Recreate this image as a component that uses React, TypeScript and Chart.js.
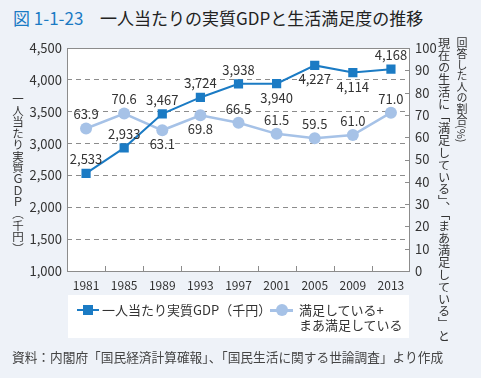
import React, { useEffect, useRef } from "react";
import { Chart, registerables } from "chart.js";

Chart.register(...registerables);

const years = ["1981", "1985", "1989", "1993", "1997", "2001", "2005", "2009", "2013"];
const gdp = [2533, 2933, 3467, 3724, 3938, 3940, 4227, 4114, 4168];
const satisfaction = [63.9, 70.6, 63.1, 69.8, 66.5, 61.5, 59.5, 61.0, 71.0];
const gdpLabelSide = ["above", "above", "above", "above", "above", "below", "below", "below", "above"];
const satLabelSide = ["above", "above", "below", "below", "above", "above", "above", "above", "above"];
const gdpAxis = { min: 1000, max: 4500, step: 500 };
const satAxis = { min: 0, max: 100, step: 10 };

const FONT = "'Noto Sans CJK JP', 'Noto Sans', sans-serif";
const BLUE = "#1b7bc4";
const LIGHT = "#a6c2e7";
const TEXT = "#333333";
const GRID = "#8c8c8c";
const BG = "#eef2f8";

const decor = {
  id: "decor",
  beforeDraw(chart: any) {
    const { ctx, chartArea: a } = chart;
    ctx.save();
    ctx.fillStyle = "#ffffff";
    ctx.fillRect(a.left, a.top, a.right - a.left, a.bottom - a.top);
    ctx.restore();
  },
  beforeDatasetsDraw(chart: any) {
    const { ctx, chartArea: a, scales } = chart;
    ctx.save();
    ctx.strokeStyle = GRID;
    ctx.lineWidth = 1;
    ctx.setLineDash([]);
    ctx.strokeRect(Math.round(a.left) + 0.5, Math.round(a.top) + 0.5, Math.round(a.right - a.left) - 1, Math.round(a.bottom - a.top));
    const x = scales.x;
    ctx.beginPath();
    for (let i = 1; i < years.length; i++) {
      const px = Math.round((x.getPixelForTick(i - 1) + x.getPixelForTick(i)) / 2) + 0.5;
      ctx.moveTo(px, a.bottom);
      ctx.lineTo(px, a.bottom - 5);
    }
    const y2 = scales.y2;
    for (let v = satAxis.min + satAxis.step; v < satAxis.max; v += satAxis.step) {
      const py = Math.round(y2.getPixelForValue(v)) + 0.5;
      ctx.moveTo(a.right - 5, py);
      ctx.lineTo(a.right, py);
    }
    ctx.stroke();
    ctx.restore();
  },
  afterDatasetsDraw(chart: any) {
    const { ctx } = chart;
    ctx.save();
    ctx.font = `13px ${FONT}`;
    ctx.fillStyle = TEXT;
    ctx.textAlign = "center";
    ctx.textBaseline = "middle";
    const draw = (dsIndex: number, sides: string[], fmt: (v: number) => string) => {
      const meta = chart.getDatasetMeta(dsIndex);
      const data = chart.data.datasets[dsIndex].data as number[];
      meta.data.forEach((pt: any, i: number) => {
        const dy = sides[i] === "above" ? -14 : 14;
        ctx.fillText(fmt(data[i]), pt.x, pt.y + dy);
      });
    };
    draw(0, gdpLabelSide, (v) => v.toLocaleString("en-US"));
    draw(1, satLabelSide, (v) => v.toFixed(1));
    ctx.restore();
  },
};

function ChartCanvas() {
  const ref = useRef<HTMLCanvasElement | null>(null);
  useEffect(() => {
    if (!ref.current) return;
    Chart.defaults.font.family = FONT;
    const chart = new Chart(ref.current, {
      type: "line",
      data: {
        labels: years,
        datasets: [
          {
            label: "一人当たり実質GDP（千円）",
            data: gdp,
            yAxisID: "y",
            borderColor: BLUE,
            backgroundColor: BLUE,
            borderWidth: 2,
            pointStyle: "rect",
            pointRadius: 6.5,
            pointHoverRadius: 6.5,
            pointBorderWidth: 0,
            tension: 0,
          },
          {
            label: "満足している+まあ満足している",
            data: satisfaction,
            yAxisID: "y2",
            borderColor: LIGHT,
            backgroundColor: LIGHT,
            borderWidth: 2.5,
            pointStyle: "circle",
            pointRadius: 6,
            pointHoverRadius: 6,
            pointBorderWidth: 0,
            tension: 0,
          },
        ],
      },
      options: {
        responsive: false,
        animation: false,
        devicePixelRatio: 1,
        layout: { padding: { top: 48, left: 0, right: 0, bottom: 0 } },
        plugins: { legend: { display: false }, title: { display: false }, tooltip: { enabled: false } },
        scales: {
          x: {
            type: "category",
            offset: true,
            grid: { display: false, drawTicks: false },
            border: { display: false },
            ticks: { padding: 7, color: TEXT, font: { size: 12 }, maxRotation: 0, autoSkip: false },
            afterFit(s: any) { s.height = 107; },
          },
          y: {
            position: "left",
            min: gdpAxis.min,
            max: gdpAxis.max,
            ticks: {
              stepSize: gdpAxis.step,
              padding: 5,
              color: TEXT,
              font: { size: 13 },
              callback: (v: any) => Number(v).toLocaleString("en-US"),
            },
            grid: {
              drawTicks: false,
              lineWidth: 1,
              color: (c: any) =>
                c.tick && (c.tick.value === gdpAxis.min || c.tick.value === gdpAxis.max) ? "rgba(0,0,0,0)" : GRID,
            },
            border: { display: false, dash: [5, 4] },
            afterFit(s: any) { s.width = 67; },
          },
          y2: {
            position: "right",
            min: satAxis.min,
            max: satAxis.max,
            ticks: { stepSize: satAxis.step, padding: 5, color: TEXT, font: { size: 13 } },
            grid: { drawOnChartArea: false, drawTicks: false },
            border: { display: false },
            afterFit(s: any) { s.width = 71; },
          },
        },
      } as any,
      plugins: [decor],
    });
    return () => chart.destroy();
  }, []);
  return <canvas ref={ref} width={481} height={378} style={{ position: "absolute", left: 0, top: 0, width: 481, height: 378 }} />;
}

export default function App() {
  const vert: React.CSSProperties = {
    position: "absolute",
    writingMode: "vertical-rl",
    color: TEXT,
    whiteSpace: "nowrap",
  };
  return (
    <div style={{ position: "fixed", left: 0, top: 0, width: 481, height: 378, background: BG, fontFamily: FONT, overflow: "hidden" }}>
      <div style={{ position: "absolute", left: 13, top: 6, height: 24, lineHeight: "24px", fontSize: 17, color: BLUE, whiteSpace: "nowrap" }}>
        図 1-1-23
      </div>
      <div style={{ position: "absolute", left: 100, top: 6, height: 24, lineHeight: "24px", fontSize: 17, color: "#222", whiteSpace: "nowrap" }}>
        一人当たりの実質GDPと生活満足度の推移
      </div>
      <ChartCanvas />
      <div style={{ ...vert, left: 11, top: 93, fontSize: 11.5, lineHeight: "14px" }}>一人当たり実質ＧＤＰ（千円）</div>
      <div style={{ ...vert, left: 455, top: 37, fontSize: 11, lineHeight: "13px" }}>回答した人の割合(%)</div>
      <div style={{ ...vert, left: 437, top: 37, fontSize: 12.2, lineHeight: "13px" }}>
        現在の生活に「満足している」、「まあ満足している」と
      </div>
      <div style={{ position: "absolute", left: 68, top: 295, width: 341, height: 43, background: "#ffffff" }}>
        <div style={{ position: "absolute", left: 9, top: 14, width: 22, height: 2, background: BLUE }} />
        <div style={{ position: "absolute", left: 15, top: 10, width: 10, height: 10, background: BLUE }} />
        <div style={{ position: "absolute", left: 34, top: 7, fontSize: 13, lineHeight: "16px", color: TEXT, whiteSpace: "nowrap" }}>
          一人当たり実質GDP（千円）
        </div>
        <div style={{ position: "absolute", left: 202, top: 14, width: 23, height: 2.5, background: LIGHT }} />
        <div style={{ position: "absolute", left: 208, top: 9, width: 12, height: 12, borderRadius: 6, background: LIGHT }} />
        <div style={{ position: "absolute", left: 231, top: 7, fontSize: 13, lineHeight: "15px", color: TEXT, whiteSpace: "nowrap" }}>
          満足している+
          <br />
          まあ満足している
        </div>
      </div>
      <div style={{ position: "absolute", left: 12, top: 348, fontSize: 12.7, lineHeight: "18px", color: "#444", whiteSpace: "nowrap" }}>
        資料：内閣府「国民経済計算確報」、「国民生活に関する世論調査」より作成
      </div>
    </div>
  );
}
